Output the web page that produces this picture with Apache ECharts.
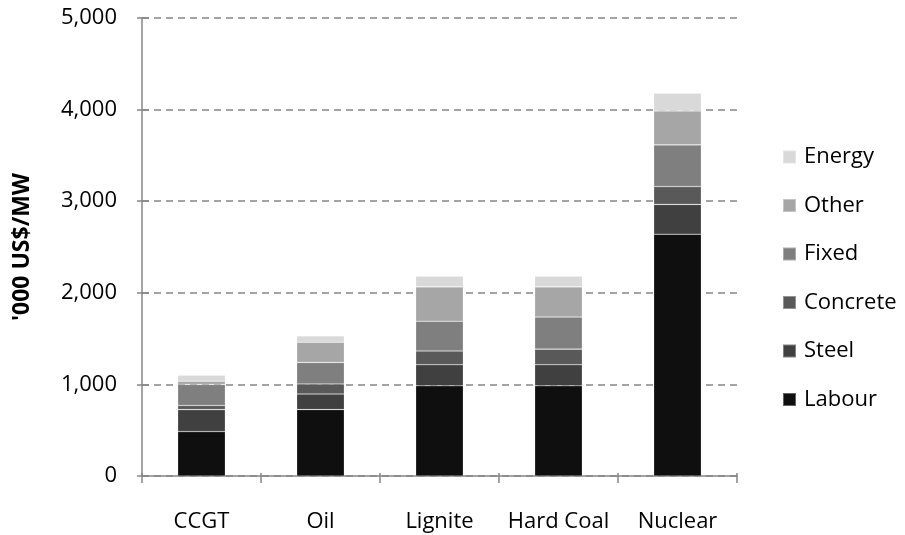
<!DOCTYPE html>
<html>
<head>
<meta charset="utf-8">
<script src="https://cdn.jsdelivr.net/npm/echarts@6/dist/echarts.min.js"></script>
<style>html,body{margin:0;padding:0;background:#fff}#c{width:905px;height:535px}</style>
</head>
<body>
<div id="c"></div>
<script>
const categories = ['CCGT', 'Oil', 'Lignite', 'Hard Coal', 'Nuclear'];
const labour   = [485, 725, 985, 985, 2640];
const steel    = [240, 170, 230, 230, 325];
const concrete = [45, 110, 150, 170, 195];
const fixed    = [230, 235, 325, 350, 455];
const other    = [35, 220, 375, 330, 370];
const energy   = [65, 70, 115, 115, 195];
const yTicks = [0, 1000, 2000, 3000, 4000, 5000];
const seriesNames = ['Labour', 'Steel', 'Concrete', 'Fixed', 'Other', 'Energy'];
const seriesData = [labour, steel, concrete, fixed, other, energy];
const colors = ['#0f0f0f', '#404040', '#595959', '#7f7f7f', '#a6a6a6', '#d9d9d9'];

const font = 'Open Sans';
const axisColor = '#868686';
const chart = echarts.init(document.getElementById('c'), null, {renderer: 'canvas'});
chart.setOption({
  animation: false,
  textStyle: {fontFamily: font},
  grid: {left: 142, right: 168, top: 18, bottom: 59, containLabel: false},
  legend: {
    orient: 'vertical',
    left: 782,
    top: 146,
    padding: 0,
    itemWidth: 13,
    itemHeight: 13,
    itemGap: 26.5,
    icon: 'rect',
    data: seriesNames.slice().reverse(),
    textStyle: {fontFamily: font, fontSize: 22, lineHeight: 22, color: '#000', padding: [0, 0, 0, 3]}
  },
  xAxis: [{
    type: 'category',
    data: categories,
    axisLine: {lineStyle: {color: axisColor, width: 1.5}},
    axisTick: {show: true, length: 7, lineStyle: {color: axisColor, width: 1.5}},
    axisLabel: {color: '#000', fontSize: 22, fontFamily: font, margin: 35, interval: 0}
  }, {
    type: 'category',
    data: categories,
    position: 'bottom',
    axisLine: {show: false},
    axisTick: {show: true, inside: true, length: 3, lineStyle: {color: axisColor, width: 1.5}},
    axisLabel: {show: false},
    splitLine: {show: false}
  }],
  yAxis: [{
    type: 'value',
    min: yTicks[0], max: yTicks[yTicks.length - 1], interval: yTicks[1] - yTicks[0],
    name: "'000 US$/MW",
    nameLocation: 'middle',
    nameGap: 108,
    nameRotate: 90,
    nameTextStyle: {fontFamily: font, fontWeight: 'bold', fontSize: 23, color: '#000'},
    axisLine: {show: true, lineStyle: {color: axisColor, width: 1.5}},
    axisTick: {show: true, length: 5, lineStyle: {color: axisColor, width: 1.5}},
    axisLabel: {
      color: '#000', fontSize: 22, fontFamily: font, margin: 25,
      formatter: v => v.toLocaleString('en-US')
    },
    splitLine: {lineStyle: {color: axisColor, width: 1.5, type: [7, 5]}}
  }, {
    type: 'value',
    min: yTicks[0], max: yTicks[yTicks.length - 1], interval: yTicks[1] - yTicks[0],
    position: 'left',
    axisLine: {show: false},
    axisTick: {show: true, inside: true, length: 7, lineStyle: {color: axisColor, width: 1.5}},
    axisLabel: {show: false},
    splitLine: {show: false}
  }],
  series: seriesNames.map((n, i) => ({
    name: n,
    type: 'bar',
    stack: 'total',
    barWidth: '40%',
    xAxisIndex: 0,
    yAxisIndex: 0,
    data: seriesData[i],
    itemStyle: {color: colors[i], borderColor: 'rgba(255,255,255,0.35)', borderWidth: 0.6}
  }))
});
</script>
</body>
</html>
